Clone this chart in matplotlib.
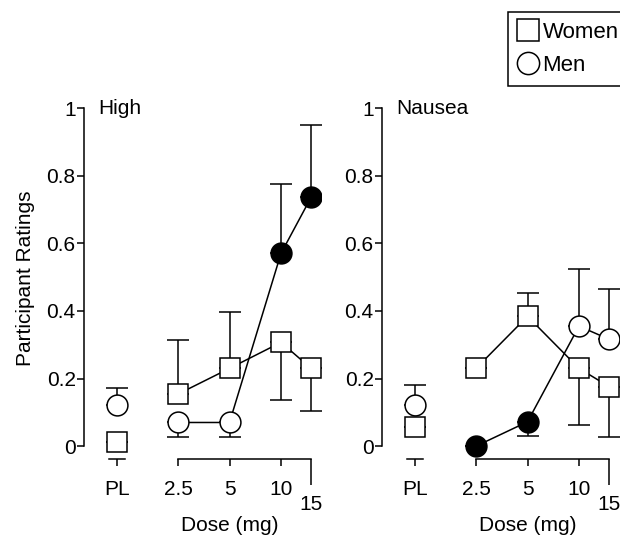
import numpy as np
import matplotlib
matplotlib.use("Agg")
import matplotlib.pyplot as plt
import matplotlib.transforms as mtransforms
from matplotlib.lines import Line2D

plt.rcParams['font.family'] = ['Liberation Sans', 'DejaVu Sans']
plt.rcParams['font.size'] = 15

# data: first value is placebo (PL), then doses
doses = [2.5, 5, 10, 15]
tick_labels = ['PL', '2.5', '5', '10']

# High
high_women = [0.013, 0.154, 0.23, 0.307, 0.23]
high_women_err = [0.0, 0.16, 0.167, -0.171, -0.126]   # +: bar up, -: bar down
high_men = [0.121, 0.07, 0.07, 0.570, 0.736]
high_men_err = [0.051, -0.042, -0.042, 0.205, 0.214]
high_men_filled = [False, False, False, True, True]

# Nausea
nausea_women = [0.056, 0.23, 0.384, 0.23, 0.176]
nausea_women_err = [0.0, 0.0, 0.069, -0.166, -0.15]
nausea_men = [0.123, 0.0, 0.072, 0.355, 0.316]
nausea_men_err = [0.059, 0.0, -0.042, 0.17, 0.148]
nausea_men_filled = [False, True, True, False, False]

PL_X = 1.1
LW = 1.1
MS = 15

fig = plt.figure(figsize=(6.2, 5.43), dpi=100)


def draw_panel(ax, title, women, women_err, men, men_err, men_filled):
    x = [PL_X] + doses
    for vals, err in [(women, women_err), (men, men_err)]:
        e = np.array(err)
        lower = np.clip(-e, 0, None)
        upper = np.clip(e, 0, None)
        ax.errorbar(x, vals, yerr=[lower, upper], fmt='none', ecolor='black',
                    elinewidth=LW, capsize=8, capthick=LW, zorder=2)
    # connecting lines (doses only)
    ax.plot(x[1:], women[1:], color='black', lw=LW, zorder=3)
    ax.plot(x[1:], men[1:], color='black', lw=LW, zorder=3)
    ax.plot(x, women, ls='none', marker='s', ms=MS, mfc='white', mec='black',
            mew=LW, zorder=4)
    for xi, yi, f in zip(x, men, men_filled):
        ax.plot(xi, yi, ls='none', marker='o', ms=MS, mfc='black' if f else 'white',
                mec='black', mew=LW, zorder=5)

    ax.set_xscale('log')
    ax.set_xlim(0.705, 17.1)
    ax.set_ylim(-0.038, 1.03)
    ax.set_xticks([PL_X] + doses[:3])
    ax.set_xticklabels(tick_labels)
    ax.set_xticks([15], minor=True)
    ax.set_xticklabels(['15'], minor=True)
    ax.set_yticks([0, 0.2, 0.4, 0.6, 0.8, 1])
    ax.set_yticklabels(['0', '0.2', '0.4', '0.6', '0.8', '1'])
    ax.tick_params(which='major', axis='x', length=5, width=LW, pad=10)
    ax.tick_params(which='minor', axis='x', length=19, width=LW, pad=7)
    ax.tick_params(axis='y', length=5, width=LW, pad=1)
    for s in ['top', 'right']:
        ax.spines[s].set_visible(False)
    ax.spines['left'].set_linewidth(LW)
    ax.spines['bottom'].set_linewidth(LW)
    ax.spines['left'].set_bounds(0, 1)
    ax.spines['bottom'].set_bounds(2.5, 15)
    # short axis piece under PL
    trans = mtransforms.blended_transform_factory(ax.transData, ax.transAxes)
    ax.plot([PL_X * 10 ** -0.047, PL_X * 10 ** 0.047], [0, 0], color='black',
            lw=LW, transform=trans, clip_on=False)
    ax.text(0.06, 1.0, title, transform=mtransforms.blended_transform_factory(
        ax.transAxes, ax.transData), va='center', ha='left')
    ax.set_xlabel('Dose (mg)')
    ax.xaxis.set_label_coords(0.616, -0.157)


ax1 = fig.add_axes([84 / 620, 0.1547, 0.382, 0.665])
draw_panel(ax1, 'High', high_women, high_women_err, high_men, high_men_err,
           high_men_filled)
ax1.set_ylabel('Participant Ratings', labelpad=8)

ax2 = fig.add_axes([382 / 620, 0.1547, 0.382, 0.665])
draw_panel(ax2, 'Nausea', nausea_women, nausea_women_err, nausea_men,
           nausea_men_err, nausea_men_filled)

handles = [
    Line2D([], [], ls='none', marker='s', ms=16, mfc='white', mec='black', mew=LW),
    Line2D([], [], ls='none', marker='o', ms=16, mfc='white', mec='black', mew=LW),
]
leg = fig.legend(handles, ['Women', 'Men'], loc='upper left',
                 bbox_to_anchor=(508 / 620, 1 - 12 / 543), borderaxespad=0,
                 fancybox=False, edgecolor='black', framealpha=1,
                 handlelength=0.9, handletextpad=0.2, borderpad=0.45,
                 labelspacing=0.55, fontsize=16)
leg.get_frame().set_linewidth(LW)

fig.savefig('out.png', dpi=100)
